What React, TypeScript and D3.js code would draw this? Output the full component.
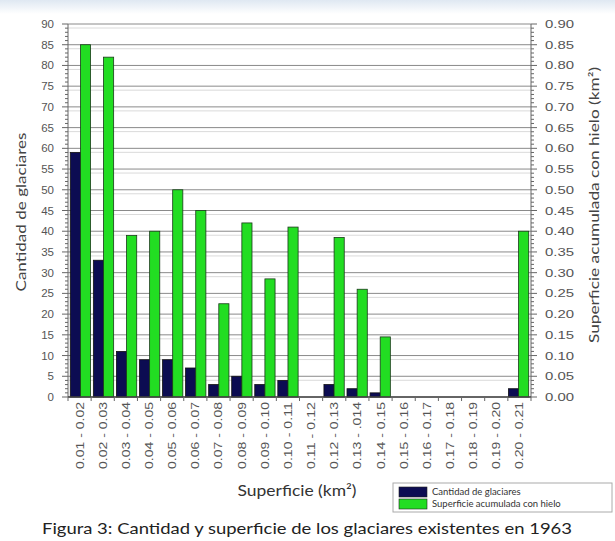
import React from "react";
import * as d3 from "d3";

const categories = [
  "0.01 - 0.02", "0.02 - 0.03", "0.03 - 0.04", "0.04 - 0.05", "0.05 - 0.06",
  "0.06 - 0.07", "0.07 - 0.08", "0.08 - 0.09", "0.09 - 0.10", "0.10 - 0.11",
  "0.11 - 0.12", "0.12 - 0.13", "0.13 - .014", "0.14 - 0.15", "0.15 - 0.16",
  "0.16 - 0.17", "0.17 - 0.18", "0.18 - 0.19", "0.19 - 0.20", "0.20 - 0.21",
];
const cantidad = [59, 33, 11, 9, 9, 7, 3, 5, 3, 4, 0, 3, 2, 1, 0, 0, 0, 0, 0, 2];
const superficie = [0.85, 0.82, 0.39, 0.4, 0.5, 0.45, 0.225, 0.42, 0.285, 0.41, 0, 0.385, 0.26, 0.145, 0, 0, 0, 0, 0, 0.4];
const leftTicks = d3.range(0, 91, 5);
const rightTicks = d3.range(0, 0.901, 0.05);
const seriesNames = ["Cantidad de glaciares", "Superficie acumulada con hielo"];
const colors = ["#0c0c52", "#22dd22"];

const W = 615, H = 541;
const L = 68, R = 531, T = 24, B = 397;

export default function App() {
  const x = d3.scaleBand<string>().domain(categories).range([L, R]).paddingInner(0.12).paddingOuter(0.1);
  const xStep = d3.scaleBand<string>().domain(categories).range([L, R]);
  const sub = d3.scaleBand<number>().domain([0, 1]).range([0, x.bandwidth()]);
  const yL = d3.scaleLinear().domain([0, 90]).range([B, T]);
  const yR = d3.scaleLinear().domain([0, 0.9]).range([B, T]);
  const tickFont = "'Liberation Sans', Arial, sans-serif";
  const titleFont = "Lato, 'Open Sans', sans-serif";
  const minor = d3.range(0, 91, 1);
  return (
    <svg width={W} height={H} style={{ position: "absolute", left: 0, top: 0, background: "#fff" }}>
      <defs>
        <linearGradient id="topband" x1="0" y1="0" x2="0" y2="1">
          <stop offset="0" stopColor="#dfe8f2" />
          <stop offset="1" stopColor="#ffffff" />
        </linearGradient>
      </defs>
      <rect x={0} y={0} width={W} height={14} fill="url(#topband)" />
      {/* gridlines */}
      {leftTicks.map((t) => (
        <g key={"g" + t}>
          {t > 0 && <line x1={L} x2={R} y1={yL(t) + 4} y2={yL(t) + 4} stroke="#dadada" strokeWidth={1} />}
          <line x1={L} x2={R} y1={yL(t)} y2={yL(t)} stroke="#8a8a8a" strokeWidth={1} />
        </g>
      ))}
      {/* bars */}
      {categories.map((c, i) => (
        <g key={c}>
          {cantidad[i] > 0 && (
            <rect x={x(c)! + sub(0)!} y={yL(cantidad[i])} width={sub.bandwidth()} height={B - yL(cantidad[i])}
              fill={colors[0]} stroke="#111" strokeWidth={0.8} />
          )}
          {superficie[i] > 0 && (
            <rect x={x(c)! + sub(1)!} y={yR(superficie[i])} width={sub.bandwidth()} height={B - yR(superficie[i])}
              fill={colors[1]} stroke="#1a3a1a" strokeWidth={0.8} />
          )}
        </g>
      ))}
      {/* axes lines */}
      <line x1={L} x2={L} y1={T} y2={B} stroke="#666" />
      <line x1={R} x2={R} y1={T} y2={B} stroke="#666" />
      <line x1={L} x2={R} y1={B} y2={B} stroke="#444" strokeWidth={1.3} />
      {/* left ticks */}
      {minor.map((t) => (
        <line key={"ml" + t} x1={L - (t % 5 === 0 ? 6 : 3)} x2={L} y1={yL(t)} y2={yL(t)} stroke="#666" />
      ))}
      {leftTicks.map((t) => (
        <text key={"tl" + t} x={L - 14} y={yL(t)} dy="0.35em" textAnchor="end" fontSize={11.5}
          fill="#555" fontFamily={tickFont}>{t}</text>
      ))}
      {/* right ticks */}
      {minor.map((t) => (
        <line key={"mr" + t} x1={R} x2={R + (t % 5 === 0 ? 6 : 3)} y1={yL(t)} y2={yL(t)} stroke="#666" />
      ))}
      {rightTicks.map((t) => (
        <text key={"tr" + t} x={R + 14} y={yR(t)} dy="0.35em" textAnchor="start" fontSize={11.5}
          fill="#555" fontFamily={tickFont} textLength={29} lengthAdjust="spacingAndGlyphs">{d3.format(".2f")(t)}</text>
      ))}
      {/* x ticks */}
      {categories.map((c) => (
        <line key={"xt" + c} x1={xStep(c)!} x2={xStep(c)!} y1={B} y2={B + 4} stroke="#666" />
      ))}
      <line x1={R} x2={R} y1={B} y2={B + 4} stroke="#666" />
      {categories.map((c) => {
        const cx = xStep(c)! + xStep.bandwidth() / 2 + 4;
        return (
          <text key={"xl" + c} transform={`translate(${cx},${B + 5}) rotate(-90)`} textAnchor="end"
            fontSize={11.5} fill="#555" fontFamily={tickFont} textLength={67} lengthAdjust="spacingAndGlyphs">{c}</text>
        );
      })}
      {/* axis titles */}
      <text transform={`translate(26,212) rotate(-90)`} textAnchor="middle" fontSize={14}
        fill="#444" fontFamily={titleFont} textLength={159} lengthAdjust="spacingAndGlyphs">Cantidad de glaciares</text>
      <text transform={`translate(599,205) rotate(-90)`} textAnchor="middle" fontSize={14}
        fill="#444" fontFamily={titleFont} textLength={276} lengthAdjust="spacingAndGlyphs">Superficie acumulada con hielo (km²)</text>
      <text x={297} y={496} textAnchor="middle" fontSize={15} fill="#333" fontFamily={titleFont}
        textLength={119} lengthAdjust="spacingAndGlyphs">Superficie (km²)</text>
      {/* legend */}
      <rect x={393} y={483} width={219} height={29} fill="#fff" stroke="#aaa" />
      {seriesNames.map((n, i) => (
        <g key={n}>
          <rect x={399} y={487 + i * 12} width={28} height={10} fill={colors[i]} stroke="#222" strokeWidth={0.6} />
          <text x={432} y={495 + i * 12} fontSize={9.5} fill="#333" fontFamily={titleFont}>{n}</text>
        </g>
      ))}
      <text x={307} y={534} textAnchor="middle" fontSize={16} fill="#222" fontFamily={titleFont}
        textLength={530} lengthAdjust="spacingAndGlyphs">
        Figura 3: Cantidad y superficie de los glaciares existentes en 1963
      </text>
    </svg>
  );
}
